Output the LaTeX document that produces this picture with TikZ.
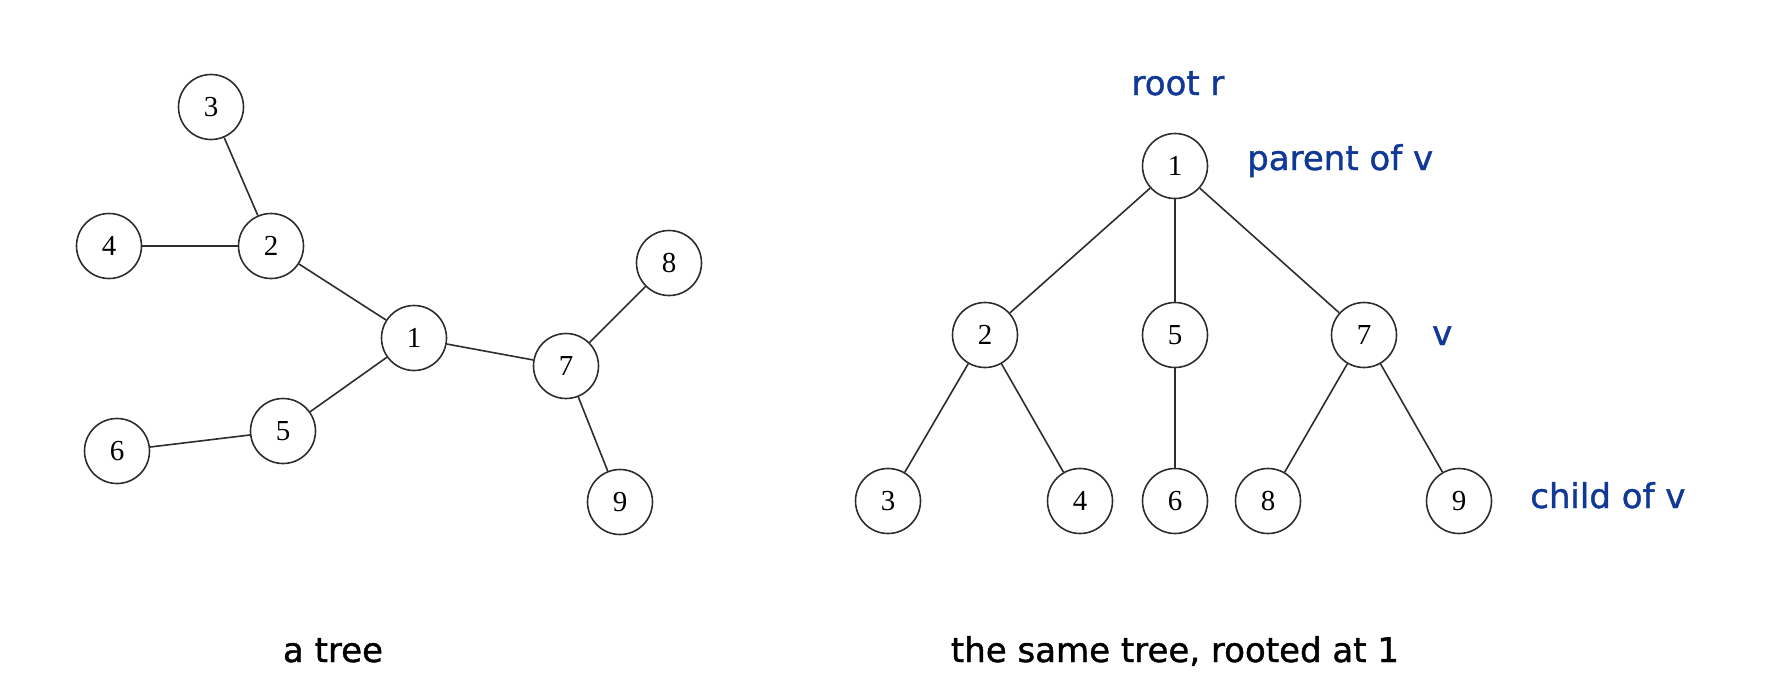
\documentclass[tikz,border=0pt]{standalone}
\usepackage{fontspec}
\usepackage{xcolor}
\usepackage{tikz}
\newfontfamily\labelfont[FakeBold=1.2]{DejaVu Sans}
\newfontfamily\digitfont{Liberation Serif}
\definecolor{labelblue}{RGB}{16,56,150}
\definecolor{edgegray}{RGB}{45,45,45}

\begin{document}
\begin{tikzpicture}[x=1pt,y=-1pt,
  vertex/.style={circle,draw=edgegray,line width=1.6pt,minimum size=65pt,inner sep=0pt,font=\digitfont\fontsize{29}{29}\selectfont},
  edge/.style={draw=edgegray,line width=1.6pt},
  note/.style={text=labelblue,font=\labelfont\fontsize{34}{34}\selectfont,anchor=base west,inner sep=0pt},
  caption/.style={font=\labelfont\fontsize{34}{34}\selectfont,anchor=base,inner sep=0pt}]
\useasboundingbox (0,0) rectangle (1768,688);
% a tree
\node[vertex] (a3) at (211,107) {3};
\node[vertex] (a2) at (271,246) {2};
\node[vertex] (a4) at (109,246) {4};
\node[vertex] (a1) at (414,338) {1};
\node[vertex] (a7) at (566,366) {7};
\node[vertex] (a8) at (669,263) {8};
\node[vertex] (a9) at (620,502) {9};
\node[vertex] (a5) at (283,431) {5};
\node[vertex] (a6) at (117,451) {6};
\foreach \u/\v in {3/2,4/2,2/1,1/7,7/8,7/9,1/5,5/6}
  \draw[edge] (a\u) -- (a\v);
% rooted at 1
\node[vertex] (b1) at (1175,166) {1};
\node[vertex] (b2) at (985,335) {2};
\node[vertex] (b5) at (1175,335) {5};
\node[vertex] (b7) at (1364,335) {7};
\node[vertex] (b3) at (888,501) {3};
\node[vertex] (b4) at (1080,501) {4};
\node[vertex] (b6) at (1175,501) {6};
\node[vertex] (b8) at (1268,501) {8};
\node[vertex] (b9) at (1459,501) {9};
\foreach \u/\v in {1/2,1/5,1/7,2/3,2/4,5/6,7/8,7/9}
  \draw[edge] (b\u) -- (b\v);
\node[note,anchor=base] (root) at (1178,95) {root r};
\node[note] (parent) at (1247,170) {parent of v};
\node[note] (vlabel) at (1432,345) {v};
\node[note] (child) at (1530,508) {child of v};
\node[caption] (left) at (333,662) {a tree};
\node[caption] (right) at (1175,662) {the same tree, rooted at 1};
\end{tikzpicture}
\end{document}
